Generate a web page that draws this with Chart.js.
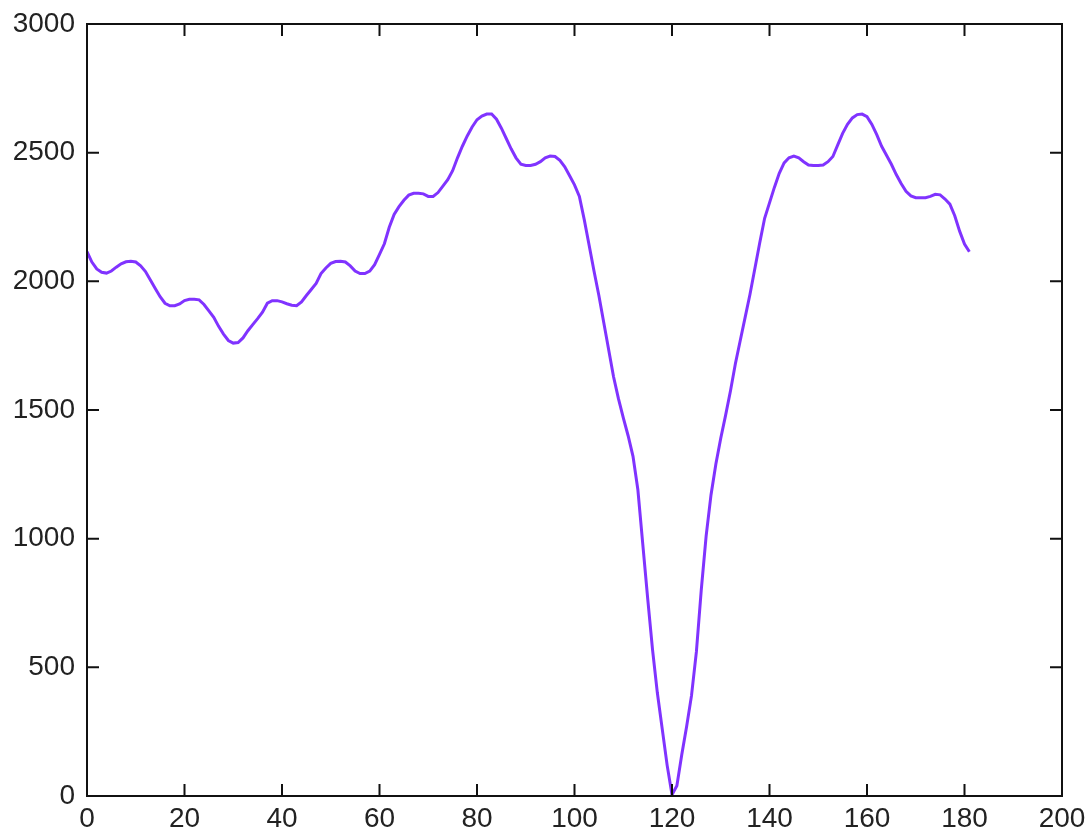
<!DOCTYPE html>
<html>
<head>
<meta charset="utf-8">
<script src="https://cdn.jsdelivr.net/npm/chart.js@4.4.1/dist/chart.umd.min.js"></script>
<style>
  body { margin: 0; background: #fff; }
  #wrap { width: 1090px; height: 833px; position: relative; }
</style>
</head>
<body>
<div id="wrap"><canvas id="myChart"></canvas></div>
<script>
// sample values, one per x step (0..181)
var yValues = [
  2115, 2075, 2048, 2035, 2032, 2040, 2055, 2068, 2076, 2078,
  2075, 2060, 2038, 2005, 1972, 1940, 1915, 1905, 1905, 1912,
  1925, 1930, 1930, 1928, 1910, 1885, 1860, 1825, 1795, 1770,
  1760, 1762, 1780, 1808, 1832, 1855, 1880, 1915, 1925, 1925,
  1920, 1913, 1907, 1905, 1920, 1945, 1968, 1992, 2030, 2052,
  2070, 2077, 2078, 2075, 2060, 2040, 2030, 2030, 2040, 2065,
  2105, 2146, 2210, 2260, 2290, 2315, 2335, 2342, 2342, 2340,
  2330, 2330, 2345, 2370, 2395, 2430, 2480, 2525, 2565, 2600,
  2628, 2642, 2650, 2650, 2630, 2595, 2555, 2515, 2480, 2455,
  2450, 2450, 2455, 2465, 2480, 2487, 2485, 2470, 2445, 2410,
  2375, 2330, 2240, 2140, 2040, 1945, 1840, 1735, 1630, 1545,
  1470, 1400, 1320, 1190, 980, 770, 570, 400, 260, 120,
  5, 40, 160, 270, 390, 560, 800, 1010, 1170, 1290,
  1390, 1480, 1575, 1680, 1770, 1860, 1950, 2050, 2150, 2245,
  2305, 2365, 2420, 2460, 2480, 2487, 2480, 2465, 2452, 2450,
  2450, 2452, 2465, 2485, 2530, 2575, 2610, 2635, 2648, 2650,
  2640, 2610, 2570, 2525, 2490, 2455, 2415, 2380, 2350, 2332,
  2325, 2325, 2325, 2330, 2338, 2336, 2320, 2300, 2255, 2195,
  2145, 2115
];
var xValues = yValues.map(function (v, i) { return i; });
var xTicks = [0, 20, 40, 60, 80, 100, 120, 140, 160, 180, 200];
var yTicks = [0, 500, 1000, 1500, 2000, 2500, 3000];
var lineColor = "#8033ff";

// box round the plot with inward ticks on all four sides
var boxTicks = {
    id: 'boxTicks',
    afterDraw: function (chart) {
        var ctx = chart.ctx;
        var a = chart.chartArea;
        var xs = chart.scales.x, ys = chart.scales.y;
        var len = 12;
        ctx.save();
        ctx.strokeStyle = "#111";
        ctx.lineWidth = 2;
        ctx.strokeRect(a.left, a.top, a.right - a.left, a.bottom - a.top);
        ctx.beginPath();
        xTicks.forEach(function (t) {
            var px = xs.getPixelForValue(t);
            ctx.moveTo(px, a.bottom); ctx.lineTo(px, a.bottom - len);
            ctx.moveTo(px, a.top); ctx.lineTo(px, a.top + len);
        });
        yTicks.forEach(function (t) {
            var py = ys.getPixelForValue(t);
            ctx.moveTo(a.left, py); ctx.lineTo(a.left + len, py);
            ctx.moveTo(a.right, py); ctx.lineTo(a.right - len, py);
        });
        ctx.stroke();
        ctx.restore();
    }
};

function plain(v) { return String(v); }

new Chart("myChart", {
    type: "line",
    data: {
        labels: xValues,
        datasets: [{
            data: yValues,
            borderColor: lineColor,
            borderWidth: 3,
            pointRadius: 0,
            tension: 0,
            fill: false
        }]
    },
    options: {
        responsive: true,
        maintainAspectRatio: false,
        animation: false,
        layout: { padding: { top: 24, right: 28, left: 0, bottom: 0 } },
        plugins: { legend: { display: false }, tooltip: { enabled: false } },
        scales: {
            x: {
                type: "linear",
                min: 0, max: 200,
                afterBuildTicks: function (s) { s.ticks = xTicks.map(function (v) { return { value: v }; }); },
                afterFit: function (s) { s.height = 37; s.paddingLeft = 0; s.paddingRight = 0; },
                grid: { display: false, drawTicks: false },
                border: { display: false },
                ticks: { color: "#222", padding: 6, maxRotation: 0, callback: plain,
                         font: { family: "Liberation Sans", size: 28 } }
            },
            y: {
                min: 0, max: 3000,
                afterBuildTicks: function (s) { s.ticks = yTicks.map(function (v) { return { value: v }; }); },
                afterFit: function (s) { s.width = 87; s.paddingTop = 0; s.paddingBottom = 0; },
                grid: { display: false, drawTicks: false },
                border: { display: false },
                ticks: { color: "#222", padding: 12, callback: plain,
                         font: { family: "Liberation Sans", size: 28 } }
            }
        }
    },
    plugins: [boxTicks]
});
</script>
</body>
</html>
